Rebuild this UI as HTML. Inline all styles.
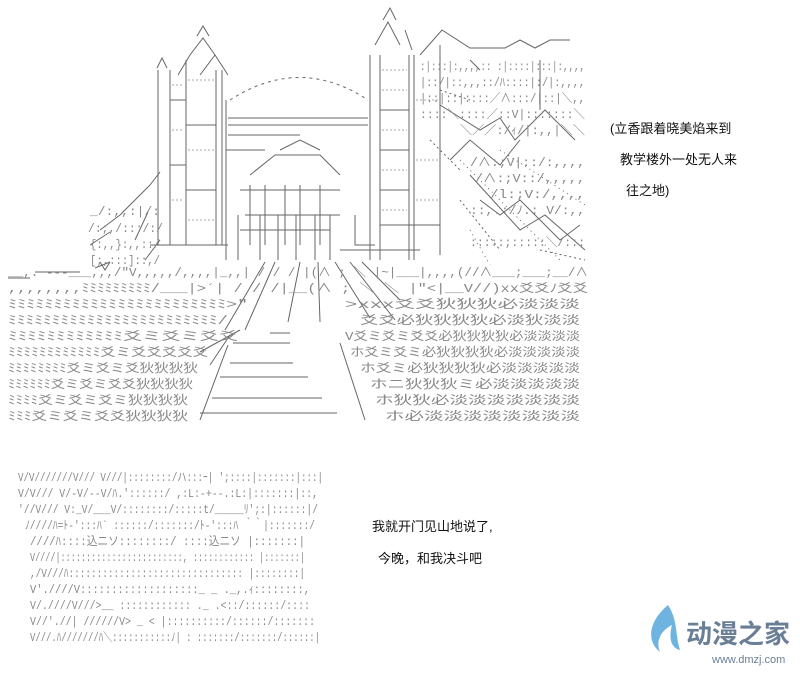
<!DOCTYPE html>
<html><head><meta charset="utf-8"><style>
html,body{margin:0;padding:0;background:#fff;}
svg{display:block}
.t{font-family:"Liberation Sans","Noto Sans CJK SC",sans-serif;fill:#555;}
.a{font-family:"Liberation Mono","Noto Sans CJK JP",monospace;fill:#888;font-size:12px;}
.c{font-family:"Liberation Sans","Noto Sans CJK SC",sans-serif;fill:#111;font-size:13px;}
</style></head><body>
<svg width="800" height="680" viewBox="0 0 800 680" xmlns="http://www.w3.org/2000/svg">
<g stroke="#666" stroke-width="1" fill="none">
<path d="M197 36 L203 26 L209 36 M190 55 L203 38 L215 55 M157 68 L162 58 L167 68 M178 75 L190 55 M200 75 L215 55 L228 75"/>
<path d="M383 20 L390 8 L396 20 M375 45 L388 22 L400 45 M405 30 L412 50"/>
<path d="M158 70 V245 M170 70 V245 M186 60 V245 M216 70 V245 M222 70 V245 M226 100 V260"/>
<path d="M370 55 V260 M380 55 V260 M409 55 V260 M414 55 V260 M440 45 V255"/>
<path d="M170 100 H186 M186 125 H216 M170 165 H186 M186 190 H216 M226 150 H265 M380 110 H409 M380 150 H409 M380 190 H409 M380 225 H440"/>
<g stroke="#aaa" stroke-dasharray="2 2">
<path d="M172 85 H184 M188 80 H214 M172 130 H184 M188 150 H214 M172 200 H184 M188 220 H214 M382 70 H407 M382 90 H407 M382 130 H407 M382 170 H407 M382 210 H407 M416 100 H438 M416 160 H438 M416 200 H438"/>
</g>
<path d="M230 100 Q300 55 368 100" stroke-dasharray="3 4"/>
<path d="M228 125 H368 M228 118 H368 M228 135 H300 M228 150 H260 M280 150 L300 140 L320 150 M250 175 L275 155 H320 L340 175"/>
<path d="M240 190 H340 M250 185 V245 M265 185 V245 M285 185 V245 M300 185 V245 M320 185 V245 M245 215 H340 M240 230 H330"/>
<path d="M238 215 V260 M260 215 V260 M278 215 V260 M296 215 V260 M315 215 V260 M330 215 V260 M355 215 V245 H375"/>
<path d="M150 245 H228 M340 250 H420"/>
<path d="M120 215 L135 200 M135 200 L150 185 M100 230 L120 215 M150 185 L160 172 M90 245 L110 232 M145 260 L160 240 M135 240 L148 212"/>
<path d="M8 278 H30 M35 272 H80 M95 268 L110 262 M100 262 L105 270 L110 262"/>
<path d="M265 262 L225 330 M275 262 L245 330 M300 262 L288 322 M318 262 L320 322 M335 262 L370 318 M350 262 L395 320 M362 262 L400 300 M230 335 L210 365 M200 352 L240 330"/>
<path d="M270 333 H290 M233 343 H290 M230 363 H293 M220 377 H308 M212 398 H322 M200 413 H337"/>
<path d="M228 345 L200 420 M340 343 L365 420"/>
<path d="M420 55 L442 30 L470 48 L505 48 L520 40 L535 48 L550 40 L570 40 M440 105 L480 130 L500 118 L515 140 L545 110 L575 140 M450 160 L470 140 L500 165 L520 140 M470 175 L520 230 L545 215 L585 250 M480 200 L500 215 L520 200 L560 240 L580 225 M470 60 L480 70 M540 60 V110"/>
<path d="M440 90 L470 100 M430 140 L460 170 M460 200 L500 250 M540 250 L585 260" stroke-dasharray="2 3"/>
<path d="M460 160 L560 260 M500 150 L585 205 M470 230 L490 265" stroke-dasharray="1 4"/>
</g>
<g class="a">
<text x="420" y="70" textLength="165" lengthAdjust="spacingAndGlyphs">:|:::|:,,,,:: :|::::|:::|:,,,,</text>
<text x="420" y="86" textLength="165" lengthAdjust="spacingAndGlyphs">|::/|::,,,::/ﾊ::::|:/|:,,,,</text>
<text x="420" y="102" textLength="165" lengthAdjust="spacingAndGlyphs">|::|::|::::／∧:::/|::|＼,,</text>
<text x="420" y="118" textLength="165" lengthAdjust="spacingAndGlyphs">::::＼::::／::V|:::::::＼</text>
<text x="460" y="134" textLength="125" lengthAdjust="spacingAndGlyphs">＼／／:/ｨ/|:,,|＼＼</text>
<text x="470" y="166" textLength="115" lengthAdjust="spacingAndGlyphs">/∧:;V|::/:,,,,</text>
<text x="475" y="182" textLength="110" lengthAdjust="spacingAndGlyphs">/∧:;V::/,,,,,</text>
<text x="490" y="198" textLength="95" lengthAdjust="spacingAndGlyphs">/l:;V:/,,,,</text>
<text x="470" y="214" textLength="115" lengthAdjust="spacingAndGlyphs">::,.:/ﾉ.: V/:,,</text>
<text x="470" y="246" textLength="115" lengthAdjust="spacingAndGlyphs">:::::;:::::＼/:::</text>
<text x="90" y="215" textLength="70" lengthAdjust="spacingAndGlyphs">_/:,,:|/:</text>
<text x="88" y="232" textLength="75" lengthAdjust="spacingAndGlyphs">/:;,/:::/:/</text>
<text x="90" y="248" textLength="70" lengthAdjust="spacingAndGlyphs">{:,,}:,,::/</text>
<text x="90" y="264" textLength="70" lengthAdjust="spacingAndGlyphs">[;,:::]::,/</text>
<text x="8" y="276" textLength="580" lengthAdjust="spacingAndGlyphs">__,.  ---___,,,/"V,,,,,/,,,,|_,,|  /   /  / |(∧  ;  ＼  |~|___|,,,,(//∧___;___;__/∧</text>
<text x="8" y="292" textLength="580" lengthAdjust="spacingAndGlyphs">,,,,,,,,ﾐﾐﾐﾐﾐﾐﾐﾐﾐ/___|&gt;´|   /   / /|__(∧  ;  ＼ ＼ |"&lt;|__V//)xx爻爻ﾉ爻爻</text>
<text x="8" y="308" textLength="240" lengthAdjust="spacingAndGlyphs">ﾐﾐﾐﾐﾐﾐﾐﾐﾐﾐﾐﾐﾐﾐﾐﾐﾐﾐﾐﾐﾐﾐﾐﾐ&gt;"</text>
<text x="345" y="308" textLength="235" lengthAdjust="spacingAndGlyphs">&gt;xxx爻爻狄狄狄必淡淡淡</text>
<text x="8" y="324" textLength="220" lengthAdjust="spacingAndGlyphs">ﾐﾐﾐﾐﾐﾐﾐﾐﾐﾐﾐﾐﾐﾐﾐﾐﾐﾐﾐﾐﾐﾐﾐﾐ/</text>
<text x="360" y="324" textLength="220" lengthAdjust="spacingAndGlyphs">爻爻必狄狄狄狄必淡狄淡淡</text>
<text x="8" y="340" textLength="230" lengthAdjust="spacingAndGlyphs">ﾐﾐﾐﾐﾐﾐﾐﾐﾐﾐﾐﾐ爻ミ爻ミ爻爻</text>
<text x="345" y="340" textLength="235" lengthAdjust="spacingAndGlyphs">V爻ミ爻ミ爻爻必狄狄狄狄必淡淡淡淡</text>
<text x="8" y="356" textLength="200" lengthAdjust="spacingAndGlyphs">ﾐﾐﾐﾐﾐﾐﾐﾐﾐﾐﾐﾐ爻ミ爻爻爻爻爻</text>
<text x="350" y="356" textLength="230" lengthAdjust="spacingAndGlyphs">ホ爻ミ爻ミ必狄狄狄狄必淡淡淡淡淡</text>
<text x="8" y="372" textLength="190" lengthAdjust="spacingAndGlyphs">ﾐﾐﾐﾐﾐﾐﾐﾐ爻ミ爻ミ爻狄狄狄狄</text>
<text x="360" y="372" textLength="220" lengthAdjust="spacingAndGlyphs">ホ爻ミ必狄狄狄狄必淡淡淡淡淡</text>
<text x="8" y="388" textLength="185" lengthAdjust="spacingAndGlyphs">ﾐﾐﾐﾐﾐﾐ爻ミ爻ミ爻爻狄狄狄狄</text>
<text x="370" y="388" textLength="210" lengthAdjust="spacingAndGlyphs">ホニ狄狄狄ミ必淡淡淡淡淡</text>
<text x="8" y="404" textLength="180" lengthAdjust="spacingAndGlyphs">ﾐﾐﾐﾐ爻ミ爻ミ爻ミ狄狄狄狄</text>
<text x="375" y="404" textLength="205" lengthAdjust="spacingAndGlyphs">ホ狄狄必淡淡淡淡淡淡淡</text>
<text x="8" y="420" textLength="180" lengthAdjust="spacingAndGlyphs">ﾐﾐﾐ爻ミ爻ミ爻爻狄狄狄狄</text>
<text x="385" y="420" textLength="195" lengthAdjust="spacingAndGlyphs">ホ必淡淡淡淡淡淡淡淡</text>
</g>
<g class="a">
<text x="18" y="481" textLength="305" lengthAdjust="spacingAndGlyphs">V/V///////V///  V///|::::::::/ハ:::ｰ| ';::::|:::::::|:::|</text>
<text x="18" y="497" textLength="300" lengthAdjust="spacingAndGlyphs">V/V/// V/-V/--V/ﾊ.'::::::/ ,:L:-+--.:L:|:::::::|::,</text>
<text x="18" y="513" textLength="300" lengthAdjust="spacingAndGlyphs">'//V/// V:_V/___V/::::::::/:::::t/_____ﾘ';:|::::::|/</text>
<text x="25" y="529" textLength="290" lengthAdjust="spacingAndGlyphs">ﾉ////ﾊ=ﾄ-':::ﾊ` ::::::/:::::::/ﾄ-':::ﾊ  ｀｀|:::::::/</text>
<text x="30" y="545" textLength="275" lengthAdjust="spacingAndGlyphs">////ﾊ::::込ニソ::::::::/     ::::込ニソ      |:::::::|</text>
<text x="30" y="561" textLength="275" lengthAdjust="spacingAndGlyphs">V////|::::::::::::::::::::::::,    ::::::::::::      |:::::::|</text>
<text x="30" y="577" textLength="275" lengthAdjust="spacingAndGlyphs">,/V///ﾊ:::::::::::::::::::::::::::::::           |::::::::|</text>
<text x="30" y="593" textLength="280" lengthAdjust="spacingAndGlyphs">V'.////V:::::::::::::::::::_ _          ._,.ｨ::::::::,</text>
<text x="30" y="609" textLength="280" lengthAdjust="spacingAndGlyphs">V/.////V///&gt;__ ::::::::::::      ._ .&lt;::/::::::/::::</text>
<text x="30" y="625" textLength="285" lengthAdjust="spacingAndGlyphs">V//'.//| //////V&gt;   _   &lt; |::::::::::/::::::/:::::::</text>
<text x="30" y="641" textLength="290" lengthAdjust="spacingAndGlyphs">V///.ﾊ///////ﾊ＼:::::::::::ﾉ| : :::::::/:::::::/::::::|</text>
</g>
<text class="c" x="610" y="133">(立香跟着晓美焰来到</text>
<text class="c" x="620" y="164">教学楼外一处无人来</text>
<text class="c" x="626" y="195">往之地)</text>
<text class="c" x="372" y="531">我就开门见山地说了,</text>
<text class="c" x="378" y="563">今晚，和我决斗吧</text>
<path d="M668 605 C650 620 645 640 660 652 C655 640 662 630 672 625 C668 640 672 648 680 650 C675 635 678 620 668 605 Z" fill="#6fb4e0"/>
<text x="686" y="643" class="t" style="font-size:26px;fill:#6a7f95;font-weight:bold">动漫之家</text>
<text x="712" y="663" class="t" style="font-size:11px;fill:#6a7f95">www.dmzj.com</text>
</svg>
</body></html>
